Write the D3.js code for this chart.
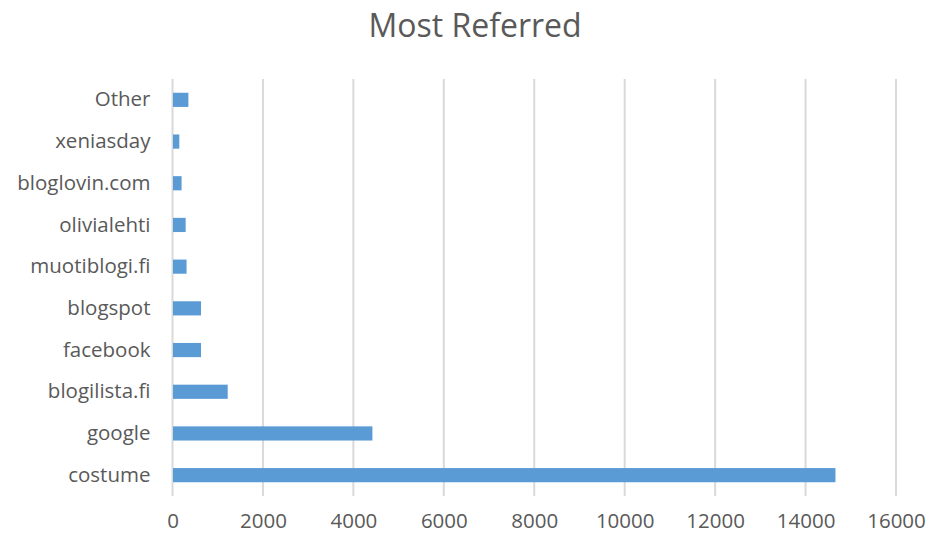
<!DOCTYPE html>
<html>
<head>
<meta charset="utf-8">
<script src="https://cdn.jsdelivr.net/npm/d3@7"></script>
<style>
  body { margin: 0; background: #fff; }
  svg { font-family: "Open Sans", Lato, sans-serif; font-variant-ligatures: none; }
</style>
</head>
<body>
<svg id="chart" width="930" height="538"></svg>
<script>
// data (bottom to top)
const categories = ['costume', 'google', 'blogilista.fi', 'facebook', 'blogspot',
  'muotiblogi.fi', 'olivialehti', 'bloglovin.com', 'xeniasday', 'Other'];
const referrals = [14650, 4410, 1210, 620, 620, 300, 280, 190, 140, 340];
const xTicks = [0, 2000, 4000, 6000, 8000, 10000, 12000, 14000, 16000];

const svg = d3.select('#chart');
const margin = { top: 79, right: 34, bottom: 42, left: 172.5 };
const width = 930 - margin.left - margin.right;
const height = 538 - margin.top - margin.bottom;

const x = d3.scaleLinear().domain([0, 16000]).range([0, width]);
const y = d3.scaleBand().domain(categories.slice().reverse()).range([0, height]).paddingInner(0.66).paddingOuter(0.33);

const g = svg.append('g').attr('transform', `translate(${margin.left},${margin.top})`);

// vertical gridlines
g.selectAll('line.grid')
  .data(xTicks)
  .enter()
  .append('line')
  .attr('class', 'grid')
  .attr('x1', (d) => x(d))
  .attr('x2', (d) => x(d))
  .attr('y1', 0)
  .attr('y2', height)
  .attr('stroke', '#d9d9d9')
  .attr('stroke-width', 2);

g.selectAll('rect.bar')
  .data(categories)
  .enter()
  .append('rect')
  .attr('class', 'bar')
  .attr('x', x(0) + 0.5)
  .attr('y', (d) => y(d))
  .attr('width', (d, i) => x(referrals[i]) - x(0))
  .attr('height', y.bandwidth())
  .attr('fill', '#5b9bd5');

// x axis labels
const xAxis = g.append('g')
  .attr('transform', `translate(0,${height})`)
  .call(d3.axisBottom(x).tickValues(xTicks).tickSize(0).tickPadding(17).tickFormat(d3.format('d')));
xAxis.select('.domain').remove();
xAxis.attr('font-family', null);
xAxis.selectAll('text').attr('fill', '#595959').style('font-size', '20.5px');

// y axis labels
const yAxis = g.append('g')
  .call(d3.axisLeft(y).tickSize(0).tickPadding(22));
yAxis.select('.domain').remove();
yAxis.attr('font-family', null);
yAxis.selectAll('text').attr('fill', '#595959').style('font-size', '20.5px');

svg.append('text')
  .attr('x', 475)
  .attr('y', 37)
  .attr('text-anchor', 'middle')
  .attr('fill', '#595959')
  .style('font-size', '32px')
  .text('Most Referred');
</script>
</body>
</html>
